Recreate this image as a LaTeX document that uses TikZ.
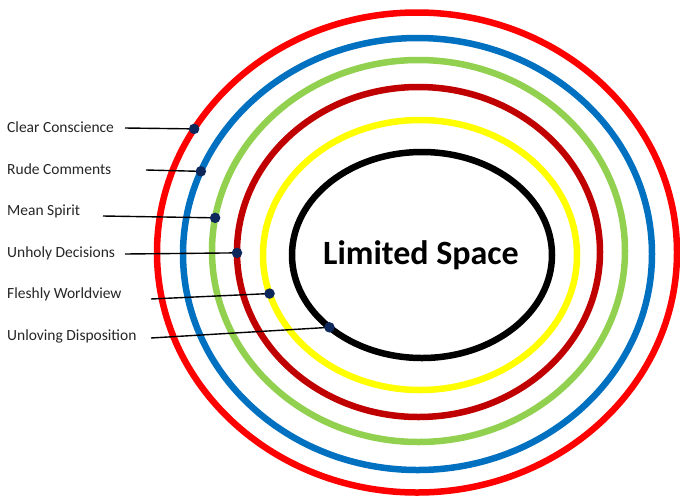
\documentclass[tikz,border=0pt]{standalone}
\usepackage{fontspec}
\setmainfont{Carlito}
\definecolor{ringblue}{RGB}{0,112,192}
\definecolor{ringgreen}{RGB}{146,208,80}
\definecolor{ringdark}{RGB}{192,0,0}
\definecolor{ringred}{RGB}{255,0,0}
\definecolor{ringyellow}{RGB}{255,255,0}
\definecolor{dotnavy}{RGB}{14,40,92}
\definecolor{labelgray}{RGB}{38,38,38}
\begin{document}
\begin{tikzpicture}[x=1pt,y=-1pt,
  ring/.style={line width=6.5pt},
  lbl/.style={anchor=west,inner sep=0pt,font=\fontsize{15.5}{17}\selectfont,text=labelgray},
  lead/.style={line width=1.4pt,black},
  dot/.style={circle,fill=dotnavy,inner sep=0pt,minimum size=10.5pt},
  title/.style={font=\fontsize{34}{40}\selectfont\bfseries}]
\useasboundingbox (0,0) rectangle (680,499);
\fill[white] (0,0) rectangle (680,499);

% ring centres
\coordinate (cR) at (417,252.5);
\coordinate (cB) at (417.5,254);
\coordinate (cG) at (418.5,251);
\coordinate (cD) at (418.5,252);
\coordinate (cY) at (420,255);
\coordinate (cK) at (422,255);

% concentric rings
\draw[ring,ringred] (cR) ellipse [x radius=260, y radius=240];
\draw[ring,ringblue] (cB) ellipse [x radius=234.5, y radius=216];
\draw[ring,ringgreen] (cG) ellipse [x radius=206.5, y radius=191];
\draw[ring,ringdark] (cD) ellipse [x radius=181.5, y radius=165];
\draw[ring,ringyellow] (cY) ellipse [x radius=157, y radius=135];
\draw[ring,black] (cK) ellipse [x radius=130, y radius=103];

\node[title] (core) at (421,255) {Limited Space};

% labels
\node[lbl] (l1) at (7,127) {Clear Conscience};
\node[lbl] (l2) at (7,169) {Rude Comments};
\node[lbl] (l3) at (7,211) {Mean Spirit};
\node[lbl] (l4) at (7,253) {Unholy Decisions};
\node[lbl] (l5) at (7,294) {Fleshly Worldview};
\node[lbl] (l6) at (7,336) {Unloving Disposition};

% leader start points
\coordinate (s1) at (125,128);
\coordinate (s2) at (146,170);
\coordinate (s3) at (103,216);
\coordinate (s4) at (125,254);
\coordinate (s5) at (151,299);
\coordinate (s6) at (151,338);

% markers on the rings
\path (cR) ++(211:260 and 240) coordinate (p1);
\path (cB) ++(202.5:234.5 and 216) coordinate (p2);
\path (cG) ++(190:206.5 and 191) coordinate (p3);
\path (cD) ++(179.7:181.5 and 165) coordinate (p4);
\path (cY) ++(163.4:157 and 135) coordinate (p5);
\path (cK) ++(135.4:130 and 103) coordinate (p6);

\foreach \i in {1,...,6} {
  \draw[lead] (s\i) -- (p\i);
}
\foreach \i in {1,...,6} {
  \node[dot] (d\i) at (p\i) {};
}
\end{tikzpicture}
\end{document}
